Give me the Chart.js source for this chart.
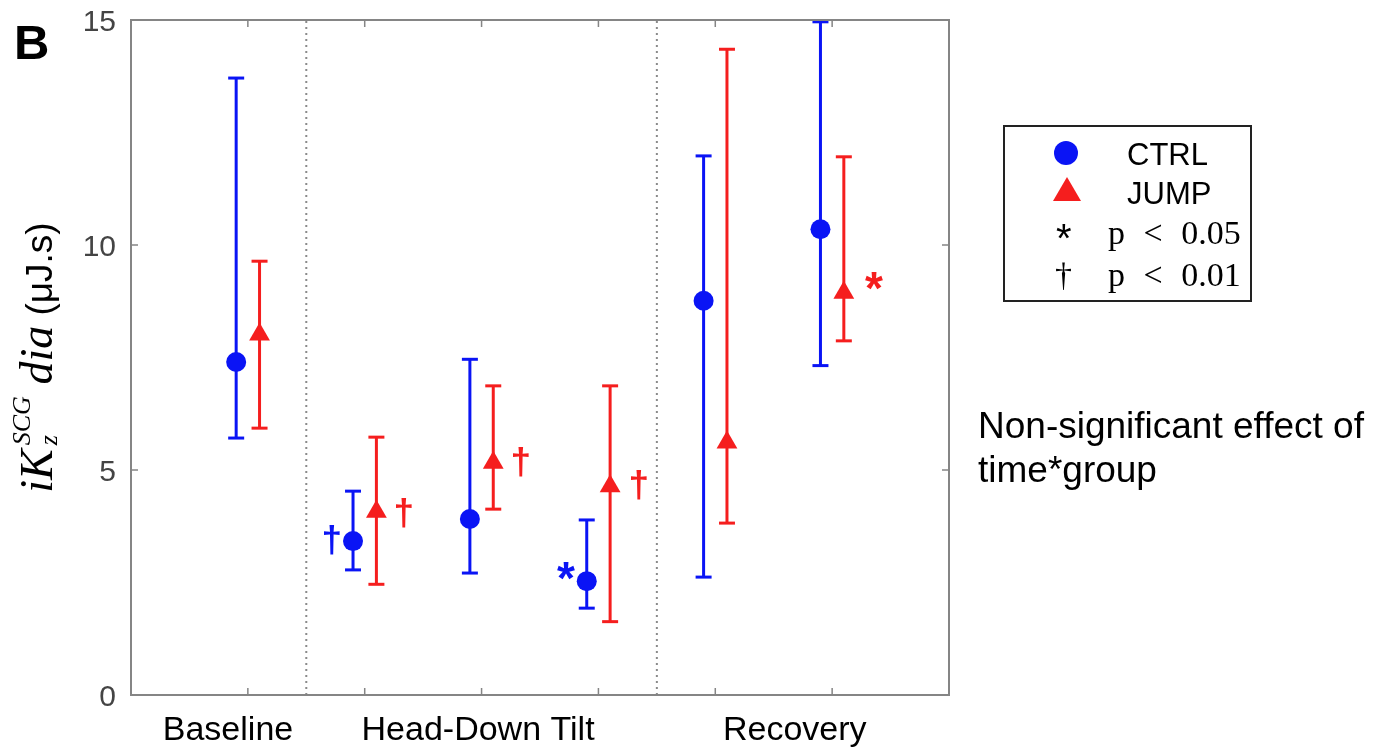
<!DOCTYPE html>
<html>
<head>
<meta charset="utf-8">
<script src="https://cdn.jsdelivr.net/npm/chart.js@4.4.1/dist/chart.umd.min.js"></script>
<style>
  html, body { margin: 0; padding: 0; background: #fff; }
  #wrap { position: relative; width: 1376px; height: 749px; overflow: hidden; }
  #c { position: absolute; left: 0; top: 0; }
  .txt { position: absolute; white-space: nowrap; color: #000; line-height: 1; }
  .sans { font-family: "Liberation Sans", Arial, sans-serif; }
  .serif { font-family: "Liberation Serif", "Times New Roman", serif; }
  #panel { left: 14px; top: 18px; font-size: 49px; font-weight: bold; }
  #legend { position: absolute; left: 1003px; top: 125px; width: 249px; height: 177px; border: 2px solid #222; box-sizing: border-box; }
  #legCircle { position: absolute; left: 1054px; top: 141px; width: 24px; height: 24px; border-radius: 50%; background: #0a14f5; }
  #legTri { position: absolute; left: 1053px; top: 177px; width: 0; height: 0; border-left: 14px solid transparent; border-right: 14px solid transparent; border-bottom: 24px solid #f51e1e; }
  #note { left: 978px; top: 404px; font-size: 37px; line-height: 44px; }
</style>
</head>
<body>
<div id="wrap">
  <canvas id="c" width="1376" height="749"></canvas>
  <div id="panel" class="txt sans">B</div>
  <div id="legend"></div>
  <div id="legCircle"></div>
  <div id="legTri"></div>
  <div class="txt sans" style="left:1127px; top:139px; font-size:31px;">CTRL</div>
  <div class="txt sans" style="left:1127px; top:178px; font-size:31px;">JUMP</div>
  <div class="txt sans" style="left:1056px; top:218px; font-size:40px;">*</div>
  <div class="txt serif" style="left:1108px; top:216px; font-size:34px; word-spacing:10px;">p &lt; 0.05</div>
  <div class="txt serif" style="left:1055px; top:258px; font-size:34px;">†</div>
  <div class="txt serif" style="left:1108px; top:258px; font-size:34px; word-spacing:10px;">p &lt; 0.01</div>
  <div id="note" class="txt sans">Non-significant effect of<br>time*group</div>
</div>
<script>
// time points (x positions) and axis ticks
const timeX = [1, 2, 3, 4, 5, 6];
const yTickValues = [0, 5, 10, 15];
const groupNames = ['Baseline', 'Head-Down Tilt', 'Recovery'];
const groupNameX = [0.83, 2.97, 5.68];
const separatorX = [1.5, 4.5];

// CTRL group: mean with lower / upper bar ends
const ctrlMean = [7.40, 3.42, 3.91, 2.53, 8.76, 10.35];
const ctrlLow  = [5.71, 2.78, 2.71, 1.93, 2.62, 7.32];
const ctrlHigh = [13.71, 4.53, 7.46, 3.89, 11.98, 14.96];

// JUMP group
const jumpMean = [8.01, 4.07, 5.16, 4.64, 5.61, 8.94];
const jumpLow  = [5.93, 2.46, 4.13, 1.63, 3.82, 7.87];
const jumpHigh = [9.64, 5.73, 6.87, 6.87, 14.35, 11.96];

// significance marks next to the points
const markSymbol = ['†', '†', '†', '*', '†', '*'];
const markX = [1.72, 2.336, 3.337, 3.722, 4.347, 6.358];
const markY = [3.45, 4.05, 5.18, 2.76, 4.67, 9.20];
const markGroup = ['ctrl', 'jump', 'jump', 'ctrl', 'jump', 'jump'];

const BLUE = '#0a14f5';
const RED = '#f51e1e';
const FRAME = '#858585';
const OFFSET = 0.1;

function errorBars(offset, low, high, color) {
  return timeX.map((t, i) => ({
    type: 'line',
    data: [{ x: t + offset, y: low[i] }, { x: t + offset, y: high[i] }],
    borderColor: color,
    borderWidth: 3,
    pointStyle: 'line',
    pointRadius: 8,
    pointBorderWidth: 3,
    pointBorderColor: color,
    order: 2
  }));
}

const separators = separatorX.map(x => ({
  type: 'line',
  data: [{ x: x, y: 0 }, { x: x, y: 15 }],
  borderColor: '#8a8a8a',
  borderWidth: 2,
  borderDash: [2, 4],
  pointRadius: 0,
  order: 3
}));

const datasets = [
  {
    label: 'CTRL',
    data: timeX.map((t, i) => ({ x: t - OFFSET, y: ctrlMean[i] })),
    pointStyle: 'circle',
    pointRadius: 10,
    backgroundColor: BLUE,
    borderWidth: 0,
    order: 0
  },
  {
    label: 'JUMP',
    data: timeX.map((t, i) => ({ x: t + OFFSET, y: jumpMean[i] })),
    pointStyle: 'triangle',
    pointRadius: 12,
    backgroundColor: RED,
    borderWidth: 0,
    order: 0
  },
  ...errorBars(-OFFSET, ctrlLow, ctrlHigh, BLUE),
  ...errorBars(OFFSET, jumpLow, jumpHigh, RED),
  ...separators
];

// put a glyph's ink centred on (x, y)
function inkText(ctx, s, x, y) {
  const m = ctx.measureText(s);
  const w = m.actualBoundingBoxRight + m.actualBoundingBoxLeft;
  const h = m.actualBoundingBoxAscent + m.actualBoundingBoxDescent;
  ctx.fillText(s, x - w / 2 + m.actualBoundingBoxLeft, y + h / 2 - m.actualBoundingBoxDescent);
}

const decorPlugin = {
  id: 'decor',
  afterDatasetsDraw(chart) {
    const ctx = chart.ctx;
    const xs = chart.scales.x, ys = chart.scales.y;
    ctx.save();
    ctx.textAlign = 'left';
    ctx.textBaseline = 'alphabetic';
    markSymbol.forEach((s, i) => {
      ctx.fillStyle = markGroup[i] === 'ctrl' ? BLUE : RED;
      ctx.font = s === '*' ? 'bold 46px "Liberation Sans"' : 'bold 37px "Liberation Sans"';
      inkText(ctx, s, xs.getPixelForValue(markX[i]), ys.getPixelForValue(markY[i]));
    });
    ctx.restore();
  },
  afterDraw(chart) {
    const ctx = chart.ctx;
    const a = chart.chartArea;
    const xs = chart.scales.x, ys = chart.scales.y;
    ctx.save();
    // axes box
    ctx.strokeStyle = FRAME;
    ctx.lineWidth = 2;
    ctx.strokeRect(a.left, a.top, a.right - a.left, a.bottom - a.top);
    ctx.lineWidth = 1.5;
    ctx.beginPath();
    timeX.forEach(t => {
      const px = xs.getPixelForValue(t);
      ctx.moveTo(px, a.bottom); ctx.lineTo(px, a.bottom - 7);
      ctx.moveTo(px, a.top); ctx.lineTo(px, a.top + 7);
    });
    yTickValues.forEach(v => {
      const py = ys.getPixelForValue(v);
      ctx.moveTo(a.left, py); ctx.lineTo(a.left + 7, py);
      ctx.moveTo(a.right, py); ctx.lineTo(a.right - 7, py);
    });
    ctx.stroke();

    // y tick labels
    ctx.fillStyle = '#444';
    ctx.font = '30px "Liberation Sans"';
    ctx.textAlign = 'right';
    ctx.textBaseline = 'alphabetic';
    yTickValues.forEach(v => {
      ctx.fillText(String(v), a.left - 15, ys.getPixelForValue(v) + 0.358 * 30);
    });

    // phase names under the axis
    ctx.fillStyle = '#000';
    ctx.font = '34px "Liberation Sans"';
    ctx.textAlign = 'center';
    groupNames.forEach((g, i) => {
      ctx.fillText(g, xs.getPixelForValue(groupNameX[i]), 740);
    });

    // y axis title: iK_z^SCG dia (uJ.s)
    const cx = 52, cy = (a.top + a.bottom) / 2;
    const big = 'italic 46px "Liberation Serif"';
    const small = 'italic 26px "Liberation Serif"';
    const unit = '37px "Liberation Sans"';
    ctx.font = big; const wIK = ctx.measureText('iK').width;
    ctx.font = small; const wSup = ctx.measureText('SCG').width;
    ctx.font = big; const wDia = ctx.measureText(' dia').width;
    ctx.font = unit; const wUnit = ctx.measureText(' (μJ.s)').width;
    const total = wIK + 4 + wSup + wDia + wUnit;
    ctx.translate(cx, cy);
    ctx.rotate(-Math.PI / 2);
    ctx.textAlign = 'left';
    let u = -total / 2;
    ctx.font = big; ctx.fillText('iK', u, 0); u += wIK + 4;
    ctx.font = small;
    ctx.fillText('SCG', u, -22);
    ctx.fillText('z', u, 5);
    u += wSup;
    ctx.font = big; ctx.fillText(' dia', u, 0); u += wDia;
    ctx.font = unit; ctx.fillText(' (μJ.s)', u, 0);
    ctx.restore();
  }
};

new Chart(document.getElementById('c'), {
  type: 'scatter',
  data: { datasets: datasets },
  options: {
    responsive: false,
    animation: false,
    events: [],
    layout: { padding: { left: 131, top: 20, right: 427, bottom: 54 } },
    plugins: { legend: { display: false }, tooltip: { enabled: false } },
    scales: {
      x: { type: 'linear', min: 0, max: 7, display: false },
      y: { type: 'linear', min: 0, max: 15, display: false }
    }
  },
  plugins: [decorPlugin]
});
</script>
</body>
</html>
